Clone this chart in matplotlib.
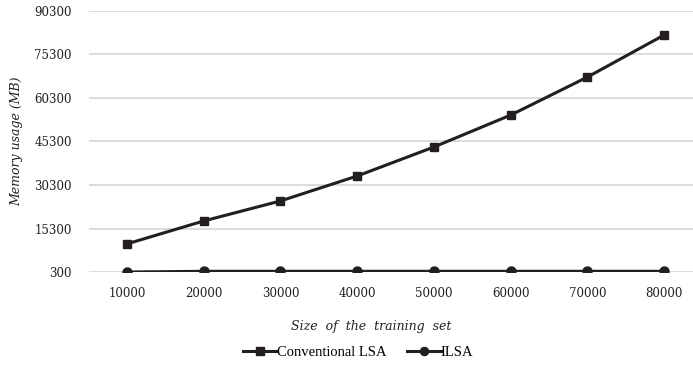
import matplotlib.pyplot as plt

# data
sizes = ['10000', '20000', '30000', '40000', '50000', '60000', '70000', '80000']
conventional_lsa = [10000, 17900, 24800, 33400, 43400, 54400, 67500, 82000]
ilsa = [300, 550, 550, 550, 550, 550, 550, 550]
y_ticks = [300, 15300, 30300, 45300, 60300, 75300, 90300]

line_color = '#231f20'
grid_color = '#d9d9d9'

plt.rcParams['font.family'] = ['DejaVu Serif']

fig = plt.figure(figsize=(6.93, 3.71), dpi=100)
ax = fig.add_axes([0.1279, 0.2668, 0.8857, 0.7036])

x = list(range(len(sizes)))
ax.plot(x, conventional_lsa, color=line_color, lw=2.2, marker='s', ms=6,
        label='Conventional LSA', zorder=3)
ax.plot(x, ilsa, color=line_color, lw=2.2, marker='o', ms=6.5,
        label='ILSA', zorder=3)

ax.set_xlim(-0.5, 7.5)
ax.set_ylim(300, 90300)
ax.set_xticks(x)
ax.set_xticklabels(sizes)
ax.set_yticks(y_ticks)
ax.set_yticklabels([str(v) for v in y_ticks])
ax.tick_params(length=0, labelsize=8.5, colors='#231f20', pad=11)
ax.tick_params(axis='y', pad=12)

ax.yaxis.grid(True, color=grid_color, lw=1.3)
ax.set_axisbelow(True)
for s in ax.spines.values():
    s.set_visible(False)

ax.set_ylabel('Memory usage (MB)', style='italic', fontsize=9, color='#231f20', labelpad=8)
fig.text(0.535, 0.119, 'Size  of  the  training  set', style='italic', fontsize=9,
         color='#231f20', ha='center', va='center')

fig.legend(loc='center', bbox_to_anchor=(0.517, 0.051), ncol=2, frameon=False,
           prop={'family': 'Liberation Serif', 'size': 10.5}, handlelength=2.3,
           handletextpad=0.0, columnspacing=1.4, markerscale=0.9)

fig.savefig('out.png', dpi=100)
